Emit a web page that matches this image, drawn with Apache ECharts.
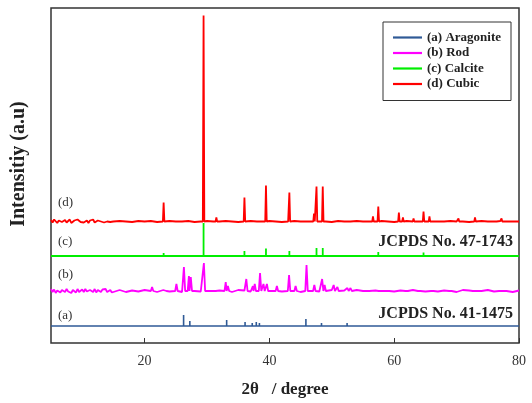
<!DOCTYPE html>
<html>
<head>
<meta charset="utf-8">
<script src="https://cdn.jsdelivr.net/npm/echarts@6/dist/echarts.min.js"></script>
<style>
  html, body { margin: 0; padding: 0; background: #fff; }
  #chart { width: 532px; height: 403px; }
</style>
</head>
<body>
<div id="chart"></div>
<script>
// 2theta range and tick labels
const xMin = 5, xMax = 80;
const xTicks = [20, 40, 60, 80];
const seriesNames = ['(a) Aragonite', '(b) Rod', '(c) Calcite', '(d) Cubic'];
const traceLabels = ['(a)', '(b)', '(c)', '(d)'];
const colors = ['#2f5a96', '#ff00ff', '#00ee00', '#ff0000'];
// vertical offset of each trace (stacked display)
const offsets = [17, 52, 87, 121.5];

// peaks: [2theta, height]
const aragonitePeaks = [[26.25, 11], [27.25, 5], [31.1, 1], [33.15, 6], [36.1, 4], [37.25, 3], [37.9, 4],
  [38.4, 3], [41.2, 2], [42.9, 2], [45.85, 7], [48.35, 3], [50.2, 2], [52.45, 3], [53.0, 1.5], [59.4, 1.5]];
const rodPeaks = [[21.2, 4], [23.3, 2], [25.1, 7], [26.3, 24], [27.1, 15], [27.4, 14], [29.5, 28], [31.2, 2],
  [33.0, 9], [33.35, 5], [36.3, 12], [37.35, 5], [37.65, 7], [38.5, 18], [39.05, 7], [39.6, 7], [41.2, 5],
  [43.15, 16], [44.2, 5], [45.95, 26], [47.2, 6], [48.45, 12], [48.85, 6], [50.3, 6], [50.9, 4], [52.5, 3],
  [53.0, 3], [55.8, 1.5], [57.3, 2], [59.0, 1.5], [62.0, 1.5], [64.0, 1.5], [66.1, 2], [69.0, 1], [72.8, 1], [77.0, 2]];
const calcitePeaks = [[23.05, 3], [29.45, 33], [31.45, 1], [36.0, 5], [39.45, 7.5], [43.2, 5], [47.55, 8],
  [48.55, 8], [57.45, 4], [60.75, 1.5], [61.4, 1], [64.7, 3.5], [65.65, 1.5]];
const cubicPeaks = [[23.05, 19], [29.45, 206], [31.5, 4], [36.0, 24], [39.45, 36], [43.2, 29], [47.15, 8],
  [47.55, 35], [48.55, 35], [56.6, 5], [57.45, 15], [60.75, 9], [61.4, 4], [63.1, 3], [64.7, 10], [65.65, 5],
  [69.2, 2], [70.3, 3], [72.95, 4], [76.3, 2], [77.2, 3]];

// baseline noise, 5..15 every 0.25 deg and 16..80 every 1 deg
const rodNoiseLow = [2, -1, 1.5, -2, 0.5, 2, -1.5, 1, 0, -1, 2, -0.5, 1.5, -2, 1, 0.5, -1.5, 2, -1, 0,
  1.5, -1, 2, -0.5, -1.5, 1, 0.5, -1, 2, -1.5, 1, 0, -1, 1.5, -0.5, 2, -1, 0.5, 1, -1.5, 0.5];
const rodNoiseHigh = [1, -1, 0.5, -0.5, 1, 0, -1, 1, -0.5, 0.5, -1, 1, 0, -0.5, 1, -1, 0.5, 0, -1, 1,
  0.5, -0.5, 1, -1, 0, 0.5, -0.5, 1, 0, -1, 0.5, 1, -0.5, 0, 1, -1, 0.5, -0.5, 1, 0,
  -1, 0.5, 0, 1, -0.5, 0.5, -1, 1, 0, -0.5, 1, -0.5, 0.5, 0, -1, 1, 0.5, -0.5, 0, 1, -0.5, 0.5, 0, -1, 0.5];
const cubicNoiseLow = [1.5, -1, 2, 0.5, -1.5, 1, 2.5, -0.5, 0, 1.5, -1, 1, 2, -1.5, 0.5, 1, -1, 2, 0, -0.5,
  1.5, -1, 0.5, 1, -1.5, 1, 0, 2, -1, 0.5, 1, -0.5, 0, 1.5, -1, 0.5, 0, 1, -0.5, 0.5, 0];
const cubicNoiseHigh = [0.5, 0, -0.5, 0.5, 0, 0.5, -0.5, 0, 0.5, 0, 0, 0.5, -0.5, 0, 0.5, 0, 0, 0.5, 0, -0.5,
  0, 0.5, 0, 0, 0.5, 0, -0.5, 0, 0.5, 0, 0, 0.5, 0, 0, -0.5, 0.5, 0, 0, 0.5, 0,
  0, 0, 0.5, 0, -0.5, 0, 0.5, 0, 0, 0.5, 0, 0, 0, 0.5, 0, 0, -0.5, 0, 0.5, 0, 0, 0.5, 0, 0, 0];

function buildTrace(peaks, hw, noiseLow, noiseHigh, offset) {
  let pts = [];
  noiseLow.forEach((v, i) => pts.push([xMin + i * 0.25, v]));
  noiseHigh.forEach((v, i) => pts.push([16 + i, v]));
  if (!pts.length) pts = [[xMin, 0], [xMax, 0]];
  pts = pts.filter(p => !peaks.some(pk => Math.abs(pk[0] - p[0]) <= hw + 0.05));
  peaks.forEach(pk => {
    pts.push([pk[0] - hw, 0], [pk[0], pk[1]], [pk[0] + hw, 0]);
  });
  pts.sort((a, b) => a[0] - b[0]);
  return pts.map(p => [p[0], p[1] + offset]);
}

const traces = [
  buildTrace(aragonitePeaks, 0, [], [], offsets[0]),
  buildTrace(rodPeaks, 0.2, rodNoiseLow, rodNoiseHigh, offsets[1]),
  buildTrace(calcitePeaks, 0, [], [], offsets[2]),
  buildTrace(cubicPeaks, 0.12, cubicNoiseLow, cubicNoiseHigh, offsets[3])
];

const serif = "'Liberation Serif', 'Times New Roman', serif";
const chart = echarts.init(document.getElementById('chart'));

const option = {
  animation: false,
  grid: {
    left: 51, right: 13, top: 8, bottom: 60,
    show: true, borderColor: '#333', borderWidth: 1.5
  },
  legend: {
    left: 383, top: 22,
    orient: 'vertical',
    data: seriesNames,
    icon: 'path://M0,0h29v2.2h-29z',
    itemWidth: 29, itemHeight: 14, itemGap: 2.5,
    padding: [9, 10, 10, 10],
    borderColor: '#333', borderWidth: 1,
    backgroundColor: '#fff',
    textStyle: { fontFamily: serif, fontWeight: 'bold', fontSize: 13, color: '#222' }
  },
  xAxis: {
    type: 'value', min: xMin, max: xMax,
    name: '2θ   / degree', nameLocation: 'middle', nameGap: 38,
    nameTextStyle: { fontFamily: serif, fontWeight: 'bold', fontSize: 17, color: '#222' },
    axisLine: { show: false },
    splitLine: { show: false },
    axisTick: { show: true, inside: true, length: 5, customValues: xTicks, lineStyle: { color: '#333', width: 1 } },
    axisLabel: { customValues: xTicks, margin: 11, fontFamily: serif, fontSize: 14, color: '#333' }
  },
  yAxis: {
    type: 'value', min: 0, max: 335,
    axisLine: { show: false }, axisTick: { show: false },
    axisLabel: { show: false }, splitLine: { show: false }
  },
  series: seriesNames.map((name, i) => ({
    name: name,
    type: 'line',
    data: traces[i],
    symbol: 'none',
    lineStyle: { color: colors[i], width: i === 0 ? 1.6 : 1.8 },
    itemStyle: { color: colors[i] },
    z: 2 + i
  })),
  graphic: [
    {
      type: 'text', x: 19, y: 164, rotation: Math.PI / 2,
      style: { text: 'Intensitiy (a.u)', font: 'bold 20px ' + serif, fill: '#222', align: 'center', verticalAlign: 'middle' }
    },
    { type: 'text', x: 513, y: 242, style: { text: 'JCPDS No. 47-1743', font: 'bold 16px ' + serif, fill: '#222', align: 'right', verticalAlign: 'middle' } },
    { type: 'text', x: 513, y: 314, style: { text: 'JCPDS No. 41-1475', font: 'bold 16px ' + serif, fill: '#222', align: 'right', verticalAlign: 'middle' } },
    { type: 'text', x: 58, y: 316, style: { text: traceLabels[0], font: '13px ' + serif, fill: '#333', verticalAlign: 'middle' } },
    { type: 'text', x: 58, y: 275, style: { text: traceLabels[1], font: '13px ' + serif, fill: '#333', verticalAlign: 'middle' } },
    { type: 'text', x: 58, y: 242, style: { text: traceLabels[2], font: '13px ' + serif, fill: '#333', verticalAlign: 'middle' } },
    { type: 'text', x: 58, y: 203, style: { text: traceLabels[3], font: '13px ' + serif, fill: '#333', verticalAlign: 'middle' } }
  ]
};

chart.setOption(option);
window.addEventListener('resize', function () {
  chart.resize();
});
</script>
</body>
</html>
